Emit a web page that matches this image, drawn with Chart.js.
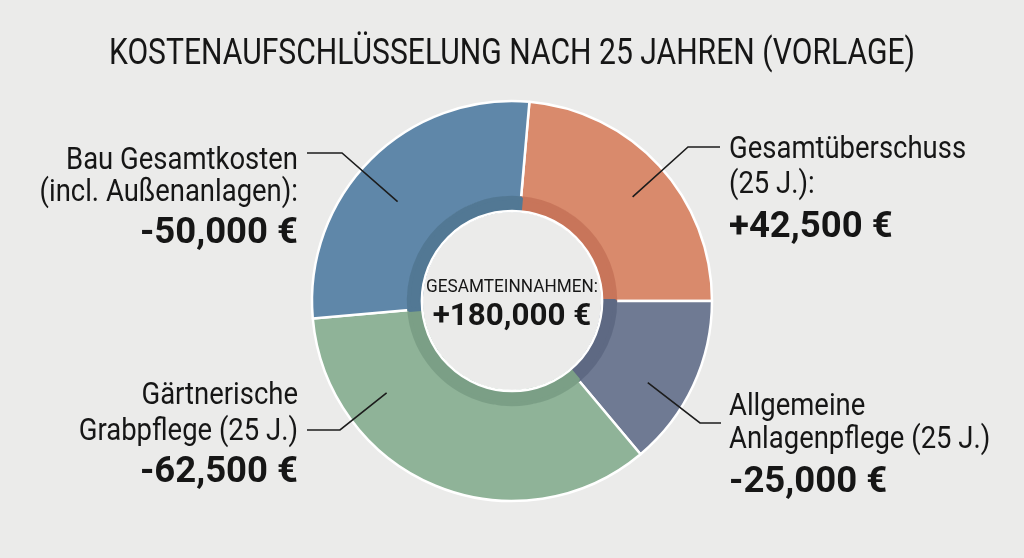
<!DOCTYPE html>
<html>
<head>
<meta charset="utf-8">
<script src="https://cdn.jsdelivr.net/npm/chart.js@4.4.1/dist/chart.umd.min.js"></script>
<style>
html, body { margin: 0; padding: 0; background: #ebebea; }
#rahmen { width: 1024px; height: 558px; }
</style>
</head>
<body>
<div id="rahmen"><canvas id="myChartKosten" width="1024" height="558"></canvas></div>
<script>
// Daten (im Uhrzeigersinn ab oben)
var kategorien = ['Gesamtüberschuss', 'Allgemeine Anlagenpflege', 'Gärtnerische Grabpflege', 'Bau Gesamtkosten'];
var betraege = [42500, 25000, 62500, 50000];
var vorzeichen = ['+', '-', '-', '-'];
var beschriftungen = [
    ['Gesamtüberschuss', '(25 J.):'],
    ['Allgemeine', 'Anlagenpflege (25 J.)'],
    ['Gärtnerische', 'Grabpflege (25 J.)'],
    ['Bau Gesamtkosten', '(incl. Außenanlagen):']
];
var mitteTitel = 'GESAMTEINNAHMEN:';
var gesamtEinnahmen = 180000;
var titel = 'KOSTENAUFSCHLÜSSELUNG NACH 25 JAHREN (VORLAGE)';

// Farben
var farben = ['#d98a6c', '#6f7a93', '#8fb398', '#5f87a9'];
var farbenInnen = ['#c8755a', '#5e6983', '#7b9f86', '#527894'];

// Position der Beschriftungen (Hinweislinien)
var anordnung = [
    { t: 0.52, f: 0.58, knick: [688, 147], ende: 720, textX: 729, align: 'left', zeilen: [158, 193], wertY: 237 },
    { t: 0.62, f: 0.57, knick: [700, 423], ende: 721, textX: 729, align: 'left', zeilen: [415, 448], wertY: 492 },
    { t: 0.75, f: 0.54, knick: [340, 430], ende: 307, textX: 298, align: 'right', zeilen: [404, 440], wertY: 482 },
    { t: 0.46, f: 0.50, knick: [342, 153], ende: 307, textX: 298, align: 'right', zeilen: [169, 201], wertY: 243 }
];

function euro(v) {
    return v.toLocaleString('en-US') + ' €';
}

function schreibe(ctx, text, x, y, font, align, sx) {
    ctx.save();
    ctx.font = font;
    ctx.textAlign = align;
    ctx.textBaseline = 'alphabetic';
    ctx.translate(x, y);
    ctx.scale(sx, 1);
    ctx.fillText(text, 0, 0);
    ctx.restore();
}

var beschriftungPlugin = {
    id: 'beschriftung',
    afterDraw: function(chart) {
        var ctx = chart.ctx;
        var meta = chart.getDatasetMeta(0);
        ctx.save();
        ctx.fillStyle = '#161616';

        // Titel
        ctx.font = '37px Roboto';
        var sxTitel = 806 / ctx.measureText(titel).width;
        schreibe(ctx, titel, 512, 64, '37px Roboto', 'center', sxTitel);

        // Mittelkreis
        var a0 = meta.data[0].getProps(['x', 'y', 'innerRadius']);
        var band = chart.getDatasetMeta(1).data[0].getProps(['innerRadius']);
        ctx.beginPath();
        ctx.arc(a0.x, a0.y, band.innerRadius - 1, 0, Math.PI * 2);
        ctx.strokeStyle = '#ffffff';
        ctx.lineWidth = 2.5;
        ctx.stroke();
        schreibe(ctx, mitteTitel, a0.x, a0.y - 9, '18.5px Roboto', 'center', 0.93);
        schreibe(ctx, '+' + euro(gesamtEinnahmen), a0.x, a0.y + 24, 'bold 32px Roboto', 'center', 0.98);

        // Hinweislinien und Texte
        meta.data.forEach(function(arc, i) {
            var p = arc.getProps(['x', 'y', 'startAngle', 'endAngle', 'innerRadius', 'outerRadius']);
            var lay = anordnung[i];
            var w = p.startAngle + lay.t * (p.endAngle - p.startAngle);
            var r = p.innerRadius + lay.f * (p.outerRadius - p.innerRadius);
            ctx.beginPath();
            ctx.moveTo(p.x + Math.cos(w) * r, p.y + Math.sin(w) * r);
            ctx.lineTo(lay.knick[0], lay.knick[1]);
            ctx.lineTo(lay.ende, lay.knick[1]);
            ctx.strokeStyle = '#1c1c1c';
            ctx.lineWidth = 1.6;
            ctx.stroke();

            beschriftungen[i].forEach(function(zeile, k) {
                schreibe(ctx, zeile, lay.textX, lay.zeilen[k], '31px Roboto', lay.align, 0.886);
            });
            schreibe(ctx, vorzeichen[i] + euro(betraege[i]), lay.textX, lay.wertY, 'bold 36.5px Roboto', lay.align, 1);
        });
        ctx.restore();
    }
};

var ctx = document.getElementById('myChartKosten').getContext('2d');
new Chart(ctx, {
    type: 'doughnut',
    data: {
        labels: kategorien,
        datasets: [{
            data: betraege,
            backgroundColor: farben,
            borderColor: '#ffffff',
            borderWidth: 2.5,
            weight: 96
        }, {
            data: betraege,
            backgroundColor: farbenInnen,
            borderColor: farbenInnen,
            borderWidth: 4,
            weight: 12,
            order: -1 // innerer Streifen oben drauf
        }]
    },
    options: {
        responsive: false,
        animation: false,
        events: [],
        rotation: 5,
        radius: 200,
        cutout: 91,
        layout: { padding: { top: 100, bottom: 56, left: 0, right: 0 } },
        plugins: {
            legend: { display: false },
            tooltip: { enabled: false }
        }
    },
    plugins: [beschriftungPlugin]
});
</script>
</body>
</html>
